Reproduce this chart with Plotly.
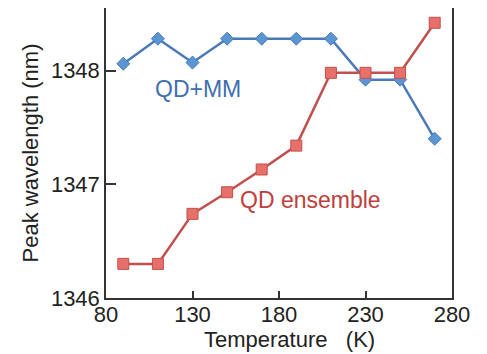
import plotly.graph_objects as go

temperature = [90, 110, 130, 150, 170, 190, 210, 230, 250, 270]
qd_mm = [1348.06, 1348.28, 1348.07, 1348.28, 1348.28, 1348.28, 1348.28, 1347.92, 1347.92, 1347.40]
qd_ensemble = [1346.30, 1346.30, 1346.74, 1346.93, 1347.13, 1347.34, 1347.98, 1347.98, 1347.98, 1348.42]
x_ticks = [80, 130, 180, 230, 280]
y_ticks = [1346, 1347, 1348]

font = "Liberation Sans, Arial, sans-serif"
blue_line = "#4a7ab8"
blue_marker = "#5b95d2"
red_line = "#c0504d"
red_marker = "#e8706a"

fig = go.Figure()
fig.add_trace(go.Scatter(
    x=temperature, y=qd_mm, mode="lines+markers",
    line=dict(color=blue_line, width=2.5),
    marker=dict(symbol="diamond", size=10, color=blue_marker, line=dict(color=blue_line, width=1)),
    showlegend=False))
fig.add_trace(go.Scatter(
    x=temperature, y=qd_ensemble, mode="lines+markers",
    line=dict(color=red_line, width=2.5),
    marker=dict(symbol="square", size=11, color=red_marker, line=dict(color=red_line, width=1)),
    showlegend=False))

fig.add_annotation(x=133, y=1347.84, text="QD+MM", showarrow=False,
                   font=dict(family=font, size=23, color="#3f6fb0"))
fig.add_annotation(x=198, y=1346.86, text="QD ensemble", showarrow=False,
                   font=dict(family=font, size=23, color="#c0403d"))
fig.add_annotation(x=0.529, y=0, xref="paper", yref="paper", yshift=-41,
                   xanchor="center", yanchor="middle",
                   text="Temperature\u00a0\u00a0 (K)", showarrow=False,
                   font=dict(family=font, size=22, color="#222"))

fig.update_layout(
    width=479, height=346,
    margin=dict(l=98, r=35, t=0, b=56),
    paper_bgcolor="white", plot_bgcolor="white",
    font=dict(family=font, size=22, color="#222"),
)
fig.update_xaxes(
    range=[80, 280], tickvals=x_ticks, ticktext=[str(v) for v in x_ticks],
    ticks="inside", ticklen=7, tickwidth=1.5, tickcolor="#333",
    showline=True, linecolor="#333", linewidth=1.5, mirror=True,
    showgrid=False, zeroline=False, automargin=False,
    ticklabelstandoff=-4,
    tickfont=dict(size=22))
fig.update_yaxes(
    range=[1346, 1348.55], tickvals=y_ticks, ticktext=[str(v) for v in y_ticks],
    ticks="inside", ticklen=10, tickwidth=1.5, tickcolor="#333",
    showline=True, linecolor="#333", linewidth=1.5, mirror=True,
    showgrid=False, zeroline=False, automargin=False,
    title=dict(text="Peak wavelength (nm)", standoff=6, font=dict(size=22)),
    tickfont=dict(size=22))

fig.write_html("out.html")
